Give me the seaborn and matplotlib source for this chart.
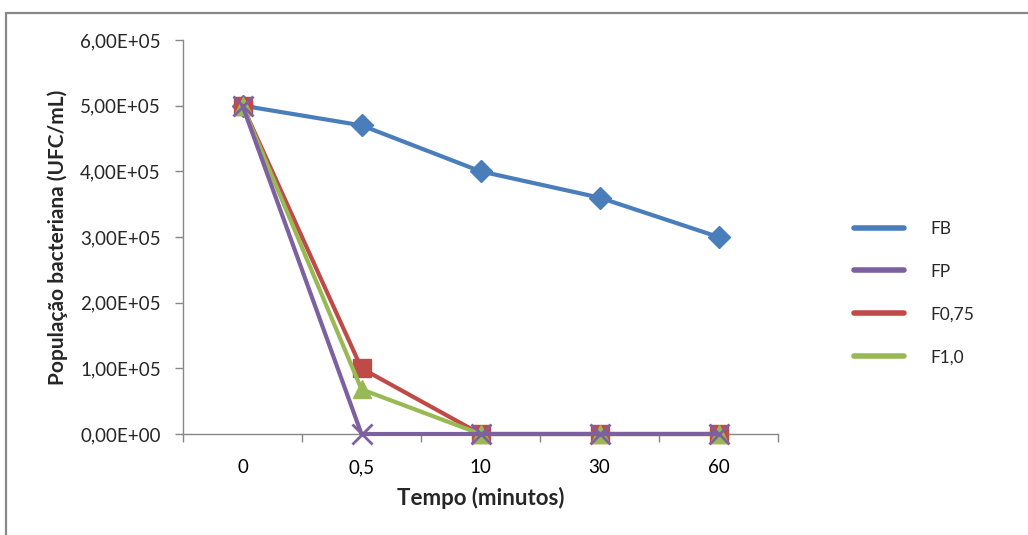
import matplotlib
matplotlib.use("Agg")
import matplotlib.pyplot as plt
import seaborn as sns
import pandas as pd
from matplotlib.lines import Line2D
from matplotlib.ticker import FuncFormatter, FixedLocator

categories = ["0", "0,5", "10", "30", "60"]
fb = [5.0e5, 4.7e5, 4.0e5, 3.6e5, 3.0e5]
fp = [5.0e5, 0, 0, 0, 0]
f075 = [5.0e5, 1.0e5, 0, 0, 0]
f10 = [5.0e5, 6.8e4, 0, 0, 0]

series_names = ["FB", "FP", "F0,75", "F1,0"]
series_values = [fb, fp, f075, f10]
colors = {"FB": "#4A7EBB", "FP": "#7D60A0", "F0,75": "#BE4B48", "F1,0": "#98B954"}
markers = {"FB": "D", "FP": "x", "F0,75": "s", "F1,0": "^"}
msizes = {"FB": 11, "FP": 14, "F0,75": 13, "F1,0": 13}
draw_order = ["FB", "F0,75", "F1,0", "FP"]

sns.set_theme(style="white")
plt.rcParams['font.family'] = ['Lato', 'DejaVu Sans']

rows = []
for name, vals in zip(series_names, series_values):
    for i, v in enumerate(vals):
        rows.append({"serie": name, "pos": i, "valor": v})
df = pd.DataFrame(rows)

fig = plt.figure(figsize=(10.28, 5.35), dpi=100)
ax = fig.add_axes([183/1028, 1 - 434/535, (778-183)/1028, (434-40)/535])

for z, name in enumerate(draw_order):
    sub = df[df["serie"] == name]
    sns.lineplot(data=sub, x="pos", y="valor", ax=ax, color=colors[name],
                 marker=markers[name], markersize=msizes[name], linewidth=3,
                 markeredgecolor=colors[name], markeredgewidth=1.0 if name != "FP" else 2,
                 zorder=3 + z, legend=False, clip_on=False)

ax.set_xlim(-0.5, len(categories) - 0.5)
ax.set_ylim(0, 6e5)
ax.set_yticks([i * 1e5 for i in range(7)])
ax.yaxis.set_major_formatter(FuncFormatter(lambda v, p: ("%.2E" % v).replace(".", ",")))
ax.set_xticks(range(len(categories)))
ax.set_xticklabels(categories)
ax.xaxis.set_minor_locator(FixedLocator([i - 0.5 for i in range(len(categories) + 1)]))
ax.tick_params(axis="x", which="major", length=0, labelsize=13.5, pad=18, colors="black")
ax.tick_params(axis="x", which="minor", length=6, width=1, direction="out", color="#868686", bottom=True)
ax.tick_params(axis="y", length=6, width=1, direction="out", color="#868686", labelsize=13.5, pad=10, left=True)

for s in ["top", "right"]:
    ax.spines[s].set_visible(False)
for s in ["left", "bottom"]:
    ax.spines[s].set_color("#868686")
    ax.spines[s].set_linewidth(1)

ax.set_xlabel("Tempo (minutos)", fontsize=16, fontweight="bold", labelpad=8)
ax.set_ylabel("População bacteriana (UFC/mL)", fontsize=15, fontweight="bold", labelpad=9)

handles = [Line2D([0], [0], color=colors[n], linewidth=4, solid_capstyle="round") for n in series_names]
fig.legend(handles, series_names, loc="upper left", bbox_to_anchor=(838/1028, 1 - 205/535),
           frameon=False, fontsize=12.5, labelspacing=1.55, handlelength=2.9, handletextpad=1.5)

# outer chart frame
fig.add_artist(Line2D([6/1028, 6/1028], [0, 1 - 13/535], color="#888888", linewidth=1.6, transform=fig.transFigure))
fig.add_artist(Line2D([6/1028, 1], [1 - 13/535, 1 - 13/535], color="#888888", linewidth=1.6, transform=fig.transFigure))

fig.savefig("out.png", dpi=100)
